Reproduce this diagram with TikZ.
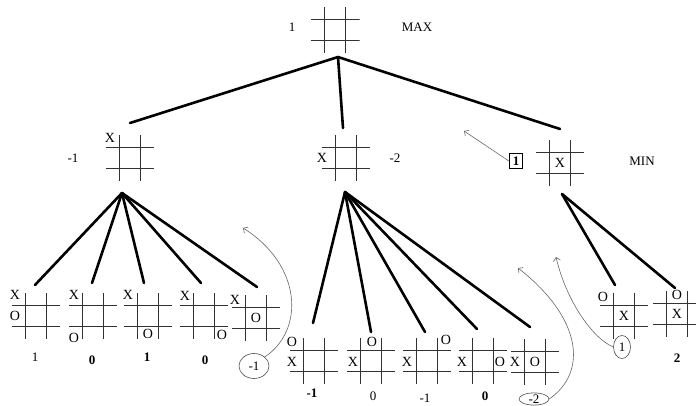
\documentclass[tikz,border=0pt]{standalone}
\usepackage{fontspec}
\setmainfont{Liberation Serif}
\usetikzlibrary{arrows.meta,shapes.geometric}

\begin{document}
\begin{tikzpicture}[x=1pt, y=-1pt,
    grid/.style={line width=1pt, black!80},
    board/.style={minimum width=48pt, minimum height=46pt, inner sep=0pt, outer sep=0pt,
      path picture={
        \foreach \d in {-10.5,10.5} {
          \draw[grid] ([xshift=\d pt]path picture bounding box.north) -- ([xshift=\d pt]path picture bounding box.south);
          \draw[grid] ([yshift=\d pt]path picture bounding box.west) -- ([yshift=\d pt]path picture bounding box.east);
        }}},
    mk/.style={font=\fontsize{14}{16}\selectfont, inner sep=0pt},
    lbl/.style={font=\fontsize{13}{15}\selectfont, inner sep=1pt},
    bval/.style={font=\fontsize{13}{15}\selectfont\bfseries, inner sep=1pt},
    edge/.style={line width=2.6pt, line cap=round},
    note/.style={draw=black!60, line width=0.6pt, -{Straight Barb[angle=90:5pt]}},
    oval/.style={draw=black!70, ellipse, line width=0.6pt, inner sep=0pt, font=\fontsize{13}{15}\selectfont}
]
\useasboundingbox (0,0) rectangle (696,406);

% MAX
\node[board, minimum width=49pt] (top) at (335,30) {};
\node[lbl] (topv) at (292,27) {1};
\node[lbl] (max) at (417,27) {MAX};

% MIN
\node[board] (c1) at (130,158) {};
\node[mk] (c1x) at ([shift={(-20,-20)}]c1) {X};
\node[lbl] (c1v) at (73,158) {-1};

\node[board] (c2) at (346,158) {};
\node[mk] (c2x) at ([shift={(-24,0)}]c2) {X};
\node[lbl] (c2v) at (395,158) {-2};

\node[board] (c3) at (560,163) {};
\node[mk] (c3x) at (c3) {X};
\node[bval, draw, line width=0.7pt, inner sep=3.5pt] (c3v) at (516,161) {1};
\node[lbl] (min) at (642,161) {MIN};
\coordinate (c3t) at (464,131);
\draw[note] (c3v.west) -- (c3t);

\coordinate (topf) at (338,57);
\draw[edge] (topf) -- ([shift={(0,-12)}]c1.north);
\draw[edge] (topf) -- ([shift={(-3,-7)}]c2.north);
\draw[edge] (topf) -- ([shift={(0,-11)}]c3.north);

% feuilles gauche
\node[board] (l1) at (36,316) {};
\node[mk] (l1x) at ([shift={(-21,-21)}]l1) {X};
\node[mk] (l1o) at ([shift={(-21,0)}]l1) {O};
\node[lbl] (l1v) at (35,357) {1};

\node[board] (l2) at (93,316) {};
\node[mk] (l2x) at ([shift={(-19,-21)}]l2) {X};
\node[mk] (l2o) at ([shift={(-19,22)}]l2) {O};
\node[bval] (l2v) at (92,360) {0};

\node[board] (l3) at (148,316) {};
\node[mk] (l3x) at ([shift={(-20,-21)}]l3) {X};
\node[mk] (l3o) at ([shift={(0,18)}]l3) {O};
\node[bval] (l3v) at (147,357) {1};

\node[board] (l4) at (204,316) {};
\node[mk] (l4x) at ([shift={(-19,-20)}]l4) {X};
\node[mk] (l4o) at ([shift={(18,19)}]l4) {O};
\node[bval] (l4v) at (205,360) {0};

\node[board] (l5) at (256,318) {};
\node[mk] (l5x) at ([shift={(-21,-18)}]l5) {X};
\node[mk] (l5o) at (l5) {O};
\node[oval, minimum width=30pt, minimum height=25pt] (l5v) at (254,366) {-1};

\coordinate (c1f) at (122,193);
\draw[edge] (c1f) -- ([shift={(-1,-8)}]l1.north);
\draw[edge] (c1f) -- ([shift={(-1,-10)}]l2.north);
\draw[edge] (c1f) -- ([shift={(-4,-10)}]l3.north);
\draw[edge] (c1f) -- ([shift={(-3,-10)}]l4.north);
\draw[edge] (c1f) -- ([shift={(1,-8)}]l5.north);

\coordinate (l5t) at (243,228);
\draw[note] (l5v.north east) .. controls (305,330) and (302,265) .. (l5t);

% feuilles milieu
\node[board] (m1) at (314,361) {};
\node[mk] (m1o) at ([shift={(-22,-19)}]m1) {O};
\node[mk] (m1x) at ([shift={(-22,1)}]m1) {X};
\node[bval] (m1v) at (312,393) {-1};

\node[board] (m2) at (371,361) {};
\node[mk] (m2o) at ([shift={(1,-19)}]m2) {O};
\node[mk] (m2x) at ([shift={(-18,1)}]m2) {X};
\node[lbl] (m2v) at (373,396) {0};

\node[board] (m3) at (427,361) {};
\node[mk] (m3x) at ([shift={(-20,1)}]m3) {X};
\node[mk] (m3o) at ([shift={(19,-21)}]m3) {O};
\node[lbl] (m3v) at (425,398) {-1};

\node[board] (m4) at (483,361) {};
\node[mk] (m4x) at ([shift={(-21,1)}]m4) {X};
\node[mk] (m4o) at ([shift={(17,1)}]m4) {O};
\node[bval] (m4v) at (485,396) {0};

\node[board] (m5) at (535,362) {};
\node[mk] (m5x) at ([shift={(-20,0)}]m5) {X};
\node[mk] (m5o) at (m5) {O};
\node[oval, minimum width=30pt, minimum height=12pt] (m5v) at (534,399) {-2};

\coordinate (c2f) at (345,192);
\draw[edge] (c2f) -- ([shift={(-1,-15)}]m1.north);
\draw[edge] (c2f) -- ([shift={(0,-6)}]m2.north);
\draw[edge] (c2f) -- ([shift={(-2,-6)}]m3.north);
\draw[edge] (c2f) -- ([shift={(-6,-9)}]m4.north);
\draw[edge] (c2f) -- ([shift={(-5,-12)}]m5.north);

\coordinate (m5t) at (518,268);
\draw[note] (m5v.east) .. controls (588,372) and (582,318) .. (m5t);

% feuilles droite
\node[board] (r1) at (624,316) {};
\node[mk] (r1o) at ([shift={(-21,-19)}]r1) {O};
\node[mk] (r1x) at (r1) {X};
\node[oval, minimum width=17pt, minimum height=23pt] (r1v) at (622,347) {1};

\node[board] (r2) at (677,314) {};
\node[mk] (r2o) at ([shift={(0,-19)}]r2) {O};
\node[mk] (r2x) at (r2) {X};
\node[bval] (r2v) at (677,358) {2};

\coordinate (c3f) at (562,194);
\draw[edge] (c3f) -- ([shift={(-9,-8)}]r1.north);
\draw[edge] (c3f) -- ([shift={(-2,-3)}]r2.north);

\coordinate (r1t) at (556,257);
\draw[note] (r1v.west) .. controls (592,338) and (566,300) .. (r1t);
\end{tikzpicture}
\end{document}
